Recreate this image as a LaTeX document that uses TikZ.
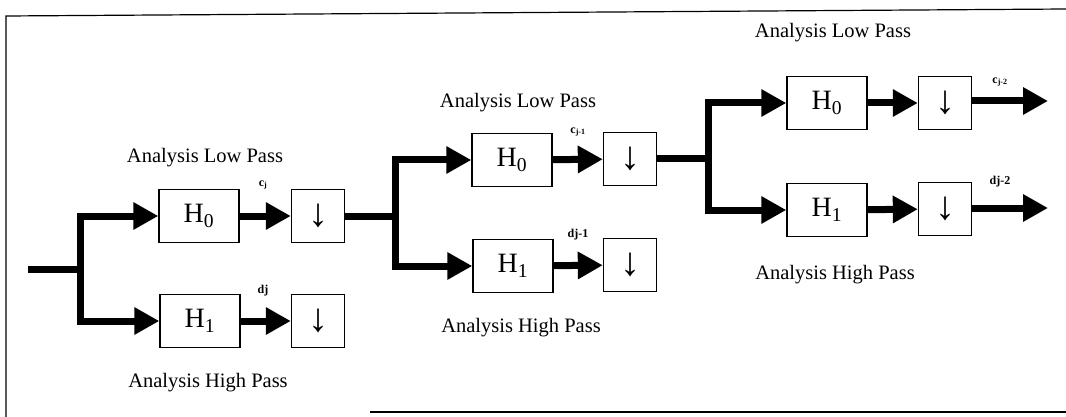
\documentclass[tikz,border=0pt]{standalone}
\usepackage{fontspec}
\setmainfont{Liberation Serif}
\usetikzlibrary{arrows.meta}

\tikzset{
  filt/.style={draw, line width=1.4pt, minimum width=80pt, minimum height=53pt,
               inner sep=0pt, font=\fontsize{28}{28}\selectfont},
  down/.style={draw, line width=1.4pt, minimum width=53pt, minimum height=53pt,
               inner sep=0pt, font=\fontsize{40}{40}\selectfont},
  bus/.style={line width=7pt, line join=miter},
  busarrow/.style={bus, -{Triangle[length=25pt, width=26pt]}},
  caption/.style={font=\fontsize{20.5}{20.5}\selectfont},
  coef/.style={font=\bfseries\fontsize{12}{12}\selectfont, inner sep=0pt},
  frame/.style={line width=1.2pt}
}

\begin{document}
\begin{tikzpicture}[x=1pt, y=-1pt]
  \useasboundingbox (0,0) rectangle (1066,417);

  % outer frame (open at the lower left)
  \draw[frame] (6,417) -- (6,16) -- (1066,9);
  \draw[frame] (370,412) -- (1066,412);

  % ---------- level 1 ----------
  \node[filt] (h0a) at (199,216) {H\textsubscript{0}};
  \node[down] (da)  at (318,216) {↓};
  \node[filt] (h1a) at (200,321) {H\textsubscript{1}};
  \node[down] (db)  at (318,321) {↓};
  \coordinate (in) at (28,269);
  \coordinate (sa) at (80,269);

  \node[caption] (lpa) at (205,158) {Analysis Low Pass};
  \node[caption] (hpa) at (208,383) {Analysis High Pass};
  \node[coef] (ca) at (263,185) {c\textsubscript{j}};
  \node[coef] (dla) at (263,291) {dj};

  \draw[bus] (in) -- (sa);
  \draw[busarrow] (sa) |- (h0a.west);
  \draw[busarrow] (sa) |- (h1a.west);
  \draw[busarrow] (h0a) -- (da);
  \draw[busarrow] (h1a) -- (db);

  % ---------- level 2 ----------
  \node[filt] (h0b) at (512,160) {H\textsubscript{0}};
  \node[down] (dc)  at (630,159) {↓};
  \node[filt] (h1b) at (513,266) {H\textsubscript{1}};
  \node[down] (dd)  at (630,265) {↓};
  \coordinate (sb) at (395,216);

  \node[caption] (lpb) at (518,103) {Analysis Low Pass};
  \node[caption] (hpb) at (521,328) {Analysis High Pass};
  \node[coef] (cb) at (578,132) {c\textsubscript{j-1}};
  \node[coef] (dlb) at (578,235) {dj-1};

  \draw[bus] (da.east) -- (sb);
  \draw[busarrow] (sb) |- (h0b.west);
  \draw[busarrow] (sb) |- (h1b.west);
  \draw[busarrow] (h0b) -- (dc);
  \draw[busarrow] (h1b) -- (dd);

  % ---------- level 3 ----------
  \node[filt] (h0c) at (827,103) {H\textsubscript{0}};
  \node[down] (de)  at (945,103) {↓};
  \node[filt] (h1c) at (827,210) {H\textsubscript{1}};
  \node[down] (df)  at (945,209) {↓};
  \coordinate (sc) at (708,159);
  \coordinate (outc) at (1048,101);
  \coordinate (outd) at (1048,208);

  \node[caption] (lpc) at (833,33) {Analysis Low Pass};
  \node[caption] (hpc) at (835,275) {Analysis High Pass};
  \node[coef] (cc) at (1000,82) {c\textsubscript{j-2}};
  \node[coef] (dlc) at (1000,182) {dj-2};

  \draw[bus] (dc.east) -- (sc);
  \draw[busarrow] (sc) |- (h0c.west);
  \draw[busarrow] (sc) |- (h1c.west);
  \draw[busarrow] (h0c) -- (de);
  \draw[busarrow] (h1c) -- (df);
  \draw[busarrow] (de.east |- outc) -- (outc);
  \draw[busarrow] (df.east |- outd) -- (outd);
\end{tikzpicture}
\end{document}
